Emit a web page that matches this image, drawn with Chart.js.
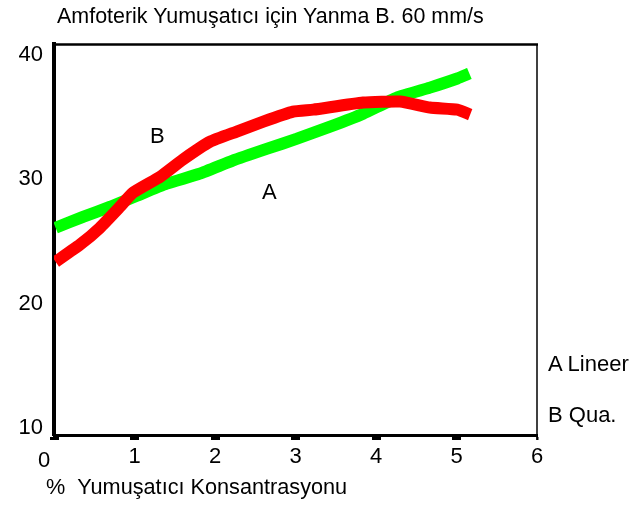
<!DOCTYPE html>
<html>
<head>
<meta charset="utf-8">
<script src="https://cdn.jsdelivr.net/npm/chart.js@4.4.1/dist/chart.umd.min.js"></script>
<style>
  html, body { margin: 0; padding: 0; background: #ffffff; }
  #wrap { position: relative; width: 640px; height: 505px; overflow: hidden; background: #ffffff; }
  #c { position: absolute; left: 0; top: 0; }
  .t { position: absolute; font-family: "Liberation Sans", Arial, sans-serif; font-size: 22px; line-height: 22px; color: #000; white-space: nowrap; transform-origin: 0 0; }
</style>
</head>
<body>
<div id="wrap">
  <canvas id="c" width="640" height="505"></canvas>
  <div class="t" id="title" style="left:57px; top:5px; transform: scaleX(0.975);">Amfoterik Yumuşatıcı için Yanma B. 60 mm/s</div>
  <div class="t" id="xtitle" style="left:46px; top:476px; transform: scaleX(0.985);">%&nbsp;&nbsp;Yumuşatıcı Konsantrasyonu</div>
  <div class="t" id="x0" style="left:38px; top:449px;">0</div>
  <div class="t" id="labB" style="left:150px; top:125px;">B</div>
  <div class="t" id="labA" style="left:262px; top:181px;">A</div>
  <div class="t" id="legA" style="left:548px; top:353px;">A Lineer</div>
  <div class="t" id="legB" style="left:548px; top:404px;">B Qua.</div>
</div>
<script>
// ---- data ----
const xTickValues = [0, 1, 2, 3, 4, 5, 6];
const xTickLabels = ['', '1', '2', '3', '4', '5', '6'];   // "0" is placed separately, left of the axis
const yTickValues = [10, 20, 30, 40];
const yTickLabels = ['10', '20', '30', '40'];

// A Lineer (green)
const linX = [0.02, 0.36, 0.70, 1.03, 1.40, 1.81, 2.22, 2.65, 3.02, 3.43, 3.84, 4.26, 4.67, 5.01, 5.16];
const linY = [26.10, 26.98, 27.79, 28.67, 29.64, 30.44, 31.49, 32.45, 33.25, 34.22, 35.26, 36.55, 37.35, 38.08, 38.48];

// B Qua. (red)
const quaX = [0.02, 0.32, 0.57, 0.82, 0.98, 1.32, 1.60, 1.94, 2.27, 2.60, 2.97, 3.22, 3.84, 4.30, 4.67, 5.01, 5.17];
const quaY = [23.37, 24.73, 26.10, 27.79, 28.91, 30.20, 31.57, 33.01, 33.82, 34.62, 35.42, 35.58, 36.15, 36.23, 35.75, 35.58, 35.18];

const toPts = (xs, ys) => xs.map((x, i) => ({ x: x, y: ys[i] }));

const framePlugin = {
  id: 'frame',
  beforeDatasetsDraw(chart) {
    const a = chart.chartArea, ctx = chart.ctx;
    ctx.save();
    ctx.strokeStyle = '#000';
    ctx.lineWidth = 2.5;
    ctx.beginPath();
    ctx.moveTo(a.left, a.top + 0.5);
    ctx.lineTo(a.right + 1, a.top + 0.5);
    ctx.stroke();
    ctx.lineWidth = 1.5;
    ctx.beginPath();
    ctx.moveTo(a.right, a.top);
    ctx.lineTo(a.right, a.bottom + 5);
    ctx.stroke();
    ctx.restore();
  }
};

new Chart(document.getElementById('c'), {
  type: 'line',
  data: {
    datasets: [
      {
        label: 'B Qua.',
        data: toPts(quaX, quaY),
        borderColor: '#ff0000',
        backgroundColor: '#ff0000',
        borderWidth: 12,
        pointRadius: 0,
        tension: 0.15,
        order: 1
      },
      {
        label: 'A Lineer',
        data: toPts(linX, linY),
        borderColor: '#00ff00',
        backgroundColor: '#00ff00',
        borderWidth: 12,
        pointRadius: 0,
        tension: 0.15,
        order: 2
      }
    ]
  },
  options: {
    responsive: false,
    animation: false,
    devicePixelRatio: 1,
    layout: { padding: { top: 44, left: 0, right: 103, bottom: 0 } },
    plugins: { legend: { display: false }, title: { display: false }, tooltip: { enabled: false } },
    scales: {
      x: {
        type: 'linear',
        min: 0,
        max: 6,
        afterBuildTicks: s => { s.ticks = xTickValues.map(v => ({ value: v })); },
        afterFit: s => { s.height = 70; },
        border: { display: true, color: '#000', width: 3 },
        grid: {
          display: true,
          drawOnChartArea: false,
          drawTicks: true,
          tickLength: 5,
          tickColor: '#000',
          tickWidth: ctx => (ctx.tick && ctx.tick.value === 6 ? 2 : 9)
        },
        ticks: {
          padding: 4,
          color: '#000',
          maxRotation: 0,
          autoSkip: false,
          font: { family: 'Liberation Sans', size: 22 },
          callback: (v) => { const i = xTickValues.indexOf(v); return i >= 0 ? xTickLabels[i] : ''; }
        }
      },
      y: {
        type: 'linear',
        min: 9.47,
        max: 40.85,
        afterBuildTicks: s => { s.ticks = yTickValues.map(v => ({ value: v })); },
        afterFit: s => { s.width = 54; },
        border: { display: true, color: '#000', width: 4 },
        grid: { display: false, drawTicks: false },
        ticks: {
          padding: 11,
          color: '#000',
          autoSkip: false,
          font: { family: 'Liberation Sans', size: 22 },
          callback: (v) => { const i = yTickValues.indexOf(v); return i >= 0 ? yTickLabels[i] : ''; }
        }
      }
    }
  },
  plugins: [framePlugin]
});
</script>
</body>
</html>
